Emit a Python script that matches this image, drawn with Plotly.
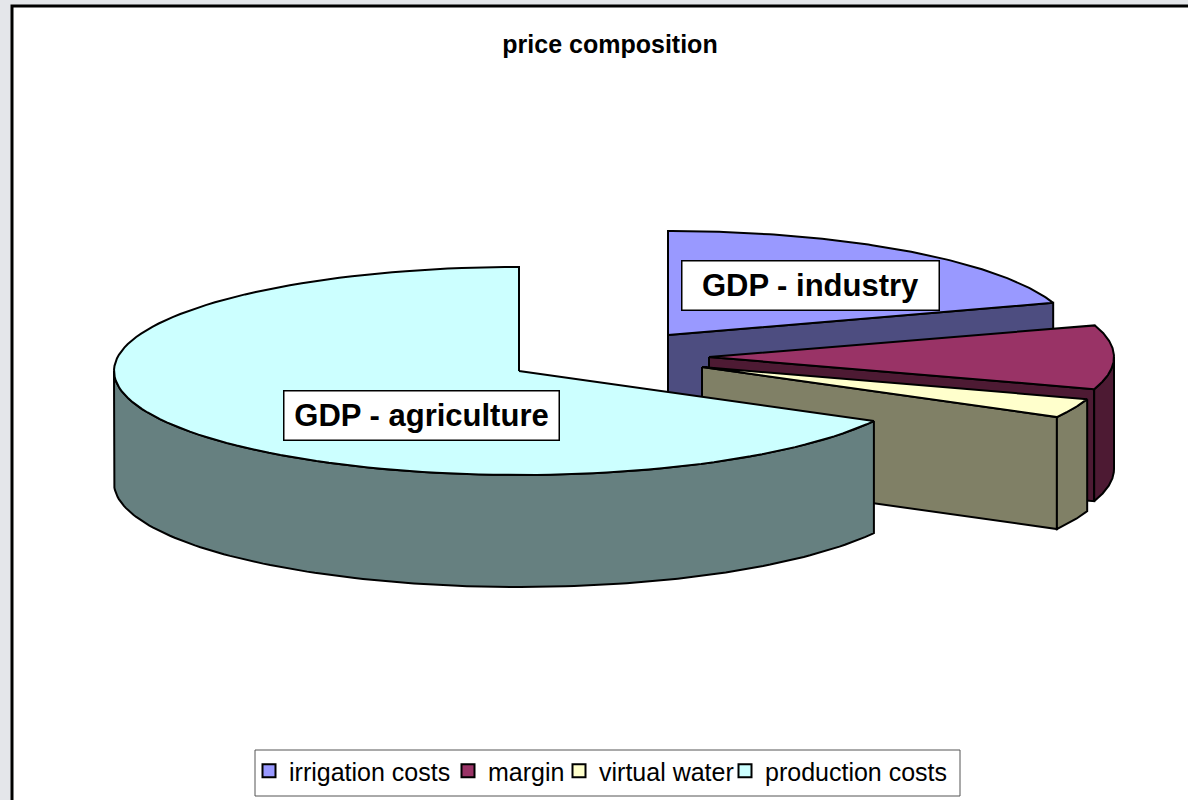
import numpy as np
import plotly.graph_objects as go

categories = ['irrigation costs', 'margin', 'virtual water', 'production costs']
values = [20, 10, 3, 67]
top_colors = ['#9999FF', '#993366', '#FFFFCC', '#CCFFFF']
side_colors = ['#4D4D80', '#4D1A33', '#808066', '#668080']

# where each exploded slice has its tip, in pixels of the 1188x800 page
tips = [(668, 335), (709, 357), (702, 367), (519, 371)]
RX = 405
RY = 104
DEPTH = 112

# left edge of each legend entry, the box round them is a shape
legend_lefts = [249, 448, 559, 725]
legend_ids = ['legend', 'legend2', 'legend3', 'legend4']


def arc(tip, a0, a1, drop=0):
    t = np.radians(np.linspace(a0, a1, 120))
    return tip[0] + RX * np.sin(t), tip[1] - RY * np.cos(t) + drop


def poly(fig, xs, ys, color, width=2):
    fig.add_trace(go.Scatter(x=list(xs) + [xs[0]], y=list(ys) + [ys[0]], mode='lines', fill='toself',
                             fillcolor=color, line=dict(color='black', width=width),
                             hoverinfo='skip', showlegend=False))


def side_wall(fig, tip, a0, a1, color):
    # outer curved wall between two angles
    x0, y0 = arc(tip, a0, a1)
    x1, y1 = arc(tip, a1, a0, DEPTH)
    poly(fig, np.concatenate([x0, x1]), np.concatenate([y0, y1]), color)


def cut_face(fig, tip, a, color):
    # flat face from the tip out to the rim at angle a
    x, y = arc(tip, a, a)
    poly(fig, [tip[0], x[0], x[0], tip[0]], [tip[1], y[0], y[0] + DEPTH, tip[1] + DEPTH], color)


def top_face(fig, tip, a0, a1, color):
    x, y = arc(tip, a0, a1)
    poly(fig, np.concatenate([[tip[0]], x]), np.concatenate([[tip[1]], y]), color)


edges = np.cumsum([0] + values) * 360 / sum(values)

fig = go.Figure()

for i, name in enumerate(categories):
    a0, a1 = edges[i], edges[i + 1]
    tip = tips[i]
    if a1 < 180:
        cut_face(fig, tip, a1, side_colors[i])
    if a1 > 90:
        side_wall(fig, tip, max(a0, 90), min(a1, 270), side_colors[i])
    top_face(fig, tip, a0, a1, top_colors[i])

for i, name in enumerate(categories):
    fig.add_trace(go.Scatter(x=[None], y=[None], mode='markers', name=name, legend=legend_ids[i],
                             showlegend=True,
                             marker=dict(symbol='square', size=13, color=top_colors[i],
                                         line=dict(color='black', width=2))))

fig.update_layout(
    width=1188,
    height=800,
    margin=dict(l=0, r=0, t=0, b=0),
    paper_bgcolor='#E4E6EA',
    plot_bgcolor='rgba(0,0,0,0)',
    font=dict(family='Liberation Sans, Arial, sans-serif', color='black'),
    title=dict(text='<b>price composition</b>', x=610 / 1188, y=1 - 44 / 800,
               xanchor='center', yanchor='middle', font=dict(size=25)),
    xaxis=dict(range=[0, 1188], visible=False, fixedrange=True),
    yaxis=dict(range=[800, 0], visible=False, fixedrange=True),
    shapes=[
        dict(type='rect', x0=12, y0=6, x1=1230, y1=840, layer='below',
             line=dict(color='black', width=3), fillcolor='white'),
        dict(type='rect', x0=255, y0=750, x1=960, y1=796, layer='below',
             line=dict(color='#555555', width=1), fillcolor='white'),
    ],
    annotations=[
        dict(x=810, y=285.5, text='<b>GDP - industry</b>', showarrow=False, width=254, height=46,
             bgcolor='white', bordercolor='black', borderwidth=1.5, font=dict(size=31)),
        dict(x=421, y=415.5, text='<b>GDP - agriculture</b>', showarrow=False, width=272, height=46,
             bgcolor='white', bordercolor='black', borderwidth=1.5, font=dict(size=31)),
    ],
)

for lid, left in zip(legend_ids, legend_lefts):
    fig.update_layout({lid: dict(orientation='h', x=left / 1188, y=1 - 748 / 800, xanchor='left', yanchor='top',
                                 bgcolor='rgba(0,0,0,0)', font=dict(size=25),
                                 itemclick=False, itemdoubleclick=False)})

fig.write_html("out.html", config=dict(displayModeBar=False),
               post_script="document.body.style.margin='0';document.body.style.overflow='hidden';")
